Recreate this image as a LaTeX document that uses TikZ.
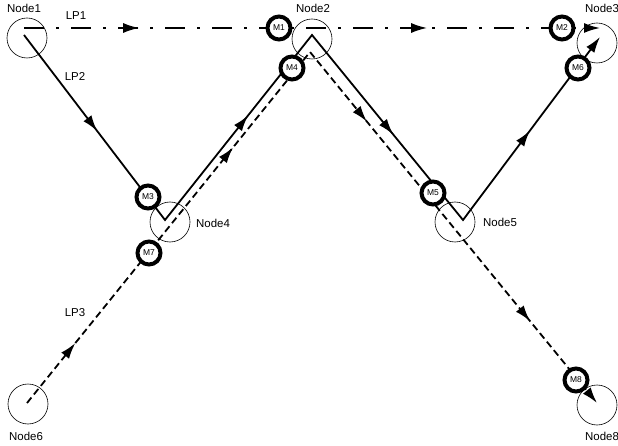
\documentclass[tikz,border=0pt]{standalone}
\usepackage{fontspec}
\setmainfont{Liberation Sans}
\usetikzlibrary{arrows.meta,decorations.markings}

\tikzset{
  >={Latex[length=16bp,width=10bp]},
  station/.style={circle,draw,line width=0.6bp,minimum size=40bp,inner sep=0pt},
  monitor/.style={circle,draw,fill=white,line width=4bp,minimum size=23bp,inner sep=0pt,font=\fontsize{8.5}{9}\selectfont},
  caption/.style={inner sep=0pt,font=\fontsize{11.5}{12}\selectfont},
  lpone/.style={line width=1.8bp,dash pattern=on 20bp off 12bp on 3bp off 12bp},
  lptwo/.style={line width=1.8bp},
  lpthree/.style={line width=1.8bp,dash pattern=on 7bp off 4bp},
  arrowsat/.style args={#1 and #2}{postaction={decorate},decoration={markings,
      mark=at position #1 with {\arrow{>}},mark=at position #2 with {\arrow{>}}}},
}

\begin{document}
\begin{tikzpicture}[x=1bp,y=-1bp]
\useasboundingbox (0,0) rectangle (618,446);

\node[station] (N1) at (27,38) {};
\node[station] (N2) at (312,39) {};
\node[station] (N3) at (597,43) {};
\node[station] (N4) at (170,222) {};
\node[station] (N5) at (455,222) {};
\node[station] (N6) at (28,404) {};
\node[station] (N8) at (597,405) {};

\node[caption] (L1) at (24,8) {Node1};
\node[caption] (L2) at (313,8) {Node2};
\node[caption,anchor=west] (L3) at (585,8) {Node3};
\node[caption,anchor=west] (L4) at (196,223) {Node4};
\node[caption,anchor=west] (L5) at (483,222) {Node5};
\node[caption] (L6) at (26,436) {Node6};
\node[caption,anchor=west] (L8) at (585,436) {Node8};

\coordinate (A1) at (24,28);
\coordinate (A3) at (600,28);
\coordinate (B1) at (24,35);
\coordinate (B4) at (165,220);
\coordinate (B2) at (312,35);
\coordinate (B5) at (463,220);
\coordinate (B3) at (600,37);
\coordinate (C6) at (27,403);
\coordinate (C2) at (310,52);
\coordinate (C8) at (597,403);

\draw[lpone,->,arrowsat=0.2 and 0.7] (A1) -- (A3);
\draw[lptwo,->,postaction={decorate},decoration={markings,
    mark=at position 0.129 with {\arrow{>}},mark=at position 0.391 with {\arrow{>}},
    mark=at position 0.638 with {\arrow{>}},mark=at position 0.875 with {\arrow{>}}}]
  (B1) -- (B4) -- (B2) -- (B5) -- (B3);
\draw[lpthree,->,postaction={decorate},decoration={markings,
    mark=at position 0.085 with {\arrow{>}},mark=at position 0.363 with {\arrow{>}},
    mark=at position 0.598 with {\arrow{>}},mark=at position 0.883 with {\arrow{>}}}]
  (C6) -- (C2) -- (C8);

\node[caption] (LP1) at (76,16) {LP1};
\node[caption] (LP2) at (75,77) {LP2};
\node[caption] (LP3) at (75,313) {LP3};

\node[monitor] (M1) at (279,28) {M1};
\node[monitor] (M2) at (562,28) {M2};
\node[monitor] (M3) at (148,197) {M3};
\node[monitor] (M4) at (292,68) {M4};
\node[monitor] (M5) at (433,193) {M5};
\node[monitor] (M6) at (578,68) {M6};
\node[monitor] (M7) at (149,253) {M7};
\node[monitor] (M8) at (576,380) {M8};
\end{tikzpicture}
\end{document}
